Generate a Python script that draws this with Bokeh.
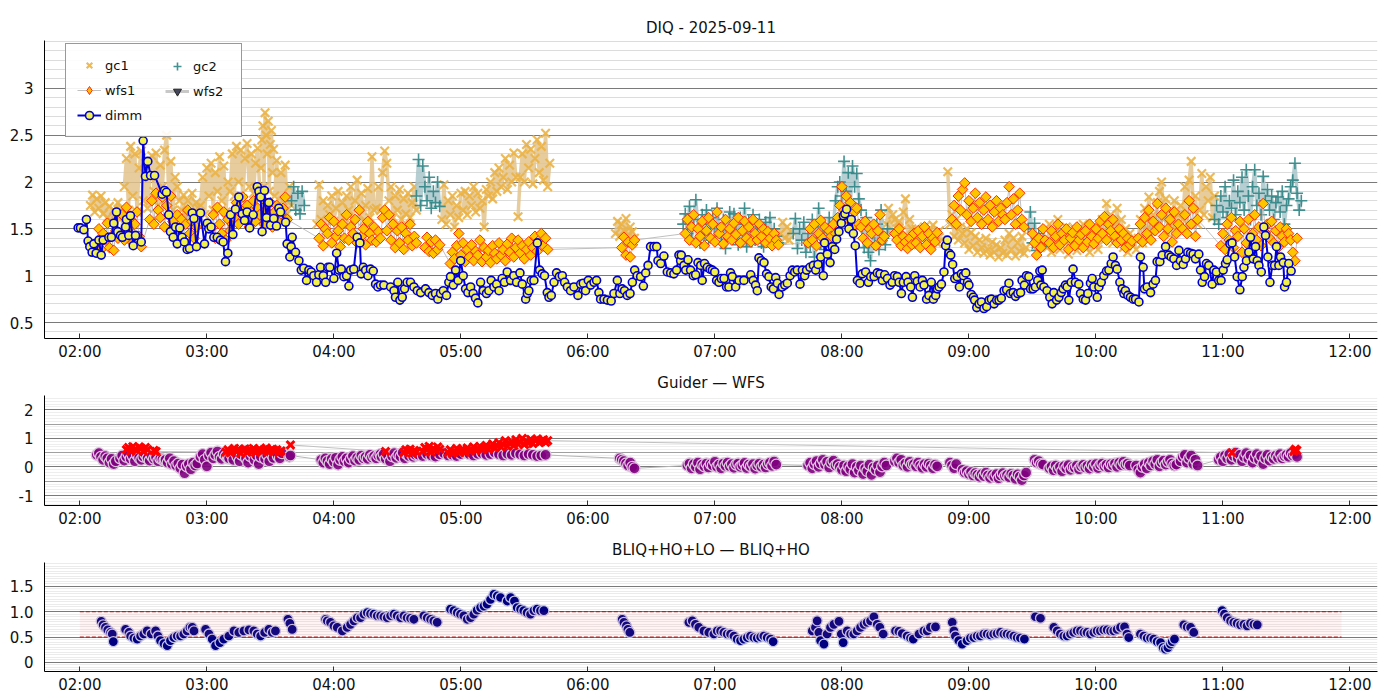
import math
from bokeh.plotting import figure
from bokeh.layouts import column
from bokeh.models import FixedTicker, Legend, LegendItem, Grid, BoxAnnotation, Range1d
from bokeh.embed import file_html
from bokeh.resources import INLINE

# ---------------------------------------------------------------- data
# time = minutes after 02:00 (UT), 2025-09-11
hour_ticks = [0, 60, 120, 180, 240, 300, 360, 420, 480, 540, 600]
hour_labels = ["02:00", "03:00", "04:00", "05:00", "06:00", "07:00",
               "08:00", "09:00", "10:00", "11:00", "12:00"]

# DIMM seeing
dimm_t = [-0.8, 0.3, 1.9, 3.1, 3.9, 4.7, 5.8, 6.6, 7.7, 9.0, 10.1, 11.0, 13.7, 14.9, 16.0, 17.3, 17.9, 19.2, 20.1, 21.6,
          22.0, 23.1, 23.9, 25.2, 26.3, 29.0, 29.9, 31.0, 32.1, 33.4, 35.3, 38.9, 40.0, 40.9, 42.0, 42.8, 44.1, 45.2, 46.0, 47.2,
          48.3, 49.4, 50.7, 51.8, 53.1, 53.9, 55.1, 57.0, 58.9, 60.2, 60.9, 62.0, 63.3, 64.9, 66.4, 67.7, 68.8, 69.9, 71.2, 72.3,
          73.5, 75.1, 76.7, 77.8, 79.0, 80.2, 81.9, 83.8, 84.6, 85.4, 86.1, 87.2, 88.2, 89.3, 90.1, 91.6, 92.9, 94.0, 94.8, 97.2,
          97.9, 99.2, 99.8, 100.3, 101.9, 103.5, 104.6, 105.8, 107.1, 108.2, 109.3, 110.5, 111.8, 112.9, 113.7, 115.0, 116.1, 117.2, 118.1, 120.0,
          121.3, 122.4, 123.5, 124.7, 126.0, 127.1, 127.9, 129.4, 131.0, 132.3, 132.9,
          133.9, 135.0, 136.1, 137.3, 138.6, 139.7, 140.8, 142.0, 143.6, 146.8,
          148.4, 149.1, 150.2, 151.2, 152.3, 153.4, 154.6, 156.2, 157.8, 159.4,
          161.0, 163.3, 164.9, 166.5, 168.0, 169.1, 170.4, 171.7, 173.2, 174.3,
          175.1, 176.4, 177.5, 178.7, 179.9, 181.1, 182.2, 183.3, 184.6, 185.8,
          186.9, 188.0, 189.3, 190.6, 192.1, 193.2, 194.3, 195.6, 196.9, 198.0,
          199.5, 200.6, 201.9, 203.5, 205.0, 206.3, 207.9, 209.0, 210.6, 211.4,
          212.1, 213.2, 214.5, 216.1, 217.2, 218.4, 219.5, 220.8, 221.6, 222.7,
          224.0, 225.2, 226.5, 227.9, 229.0, 230.3, 231.8, 233.4, 235.3, 236.6,
          237.8, 238.9, 240.2, 241.3, 242.9, 244.1, 245.2, 246.0, 247.6, 249.2,
          251.0, 252.3, 253.9, 255.1, 256.2, 257.3, 258.6, 259.9, 261.0, 262.1,
          263.3, 264.9, 266.2, 267.3, 268.4, 269.6, 271.2, 272.5, 273.1, 274.4,
          275.9, 277.5, 279.1, 280.6, 281.9, 283.0, 283.8,
          284.1, 285.4, 286.2, 287.3, 288.5, 289.8, 290.9, 292.0, 293.3, 294.0,
          295.1, 296.4, 297.7, 298.8, 299.9, 300.8, 301.9, 303.0, 304.3, 305.5,
          306.6, 307.4, 308.2, 309.8, 311.4, 313.7, 316.9, 318.1, 319.2, 320.0,
          320.8, 321.9, 323.2, 324.4, 325.5, 326.6, 327.6, 328.7, 329.5, 330.3,
          331.8, 333.0, 334.2, 335.5, 336.6, 337.7, 338.9, 340.2, 341.3, 342.4,
          343.3, 344.9, 346.5, 347.6, 348.7, 350.0, 351.2, 351.8, 353.1, 354.4,
          355.5, 356.6, 357.5, 358.6, 359.7, 360.7, 361.4, 362.2, 363.3, 364.4,
          365.4, 366.3, 367.3, 368.5, 369.6, 371.2, 372.5, 373.6, 375.2, 376.7,
          378.0, 379.1, 380.2, 381.5, 382.7, 383.8, 384.9, 386.2, 387.0, 388.1,
          389.0, 390.3, 391.2, 392.5, 393.3, 394.4, 395.6, 396.9, 398.0, 398.8,
          400.0, 401.1, 402.2, 403.2, 404.3, 405.1, 405.9, 407.0, 408.2, 409.0,
          409.8, 410.6, 411.4, 412.3, 413.3, 414.5, 415.5, 416.4, 417.4, 418.5,
          419.3, 420.0, 421.1, 422.1, 422.7, 423.7, 424.8, 425.9, 427.1, 428.4,
          429.5, 430.6, 431.9, 433.1, 434.2, 435.3, 436.6, 437.8, 438.9,
          439.6, 440.9, 442.0, 443.1, 444.4, 445.1, 446.2, 447.2, 448.3, 449.1,
          450.3, 451.4, 452.5, 453.5, 454.0, 454.6, 455.4, 456.9, 458.2, 459.3,
          460.1, 461.4, 462.5, 463.6, 464.5, 465.6, 466.4, 467.2, 468.3, 469.2,
          470.3, 471.9, 472.7, 474.0, 475.1, 476.2, 477.4, 478.2, 479.0, 480.6,
          481.4, 482.5, 483.7, 485.0, 486.1, 487.2, 488.1, 489.2, 490.0, 491.3,
          492.4, 493.2, 493.9, 495.1, 496.3, 497.6, 498.7, 500.3, 501.0, 502.3,
          502.9, 504.2, 505.8, 507.0, 508.1, 508.9, 510.2, 511.3, 512.9, 514.4,
          515.5, 516.8, 518.1, 519.2, 519.9, 521.2, 522.3, 523.4, 524.7, 525.9,
          527.0, 528.6, 529.4, 530.2, 531.3, 532.2, 533.3, 534.9, 535.7, 536.9,
          538.0, 539.1, 540.1, 541.2, 542.0, 543.3, 544.3, 545.5, 546.7, 548.0,
          549.1, 549.9, 551.1, 552.2, 553.0, 554.3, 555.4, 556.2, 557.0, 558.1,
          559.3, 560.1, 561.2, 562.2, 563.3, 564.4, 565.3, 566.4, 567.2, 568.5,
          569.1, 570.0, 571.1, 572.2]
dimm_v = [1.51, 1.51, 1.49, 1.60, 1.37, 1.31, 1.25, 1.34, 1.24, 1.38, 1.22, 1.38, 1.41, 1.41, 1.56, 1.68, 1.47, 1.43, 1.41, 1.52,
          1.60, 1.43, 1.64, 1.32, 1.43, 1.36, 2.44, 2.06, 2.22, 2.07, 2.07, 1.87, 1.91, 1.89, 1.65, 1.47, 1.41, 1.52, 1.34, 1.51,
          1.41, 1.36, 1.28, 1.29, 1.67, 1.61, 1.31, 1.67, 1.34, 1.56, 1.50, 1.52, 1.41, 1.41, 1.38, 1.36, 1.15, 1.24, 1.65, 1.44,
          1.71, 1.84, 1.66, 1.59, 1.68, 1.51, 1.65, 1.95, 1.90, 1.84, 1.47, 1.91, 1.62, 1.78, 1.54, 1.61, 1.53, 1.72, 1.68, 1.57,
          1.34, 1.20, 1.31, 1.41, 1.25, 1.16, 1.06, 1.08, 0.95, 1.06, 1.04, 1.00, 0.93, 1.01, 1.09, 1.00, 0.93, 1.09, 1.09, 0.97,
          1.24, 1.06, 1.07, 0.99, 1.00, 0.89, 1.06, 1.07, 1.41, 1.35, 1.02,
          1.09, 1.06, 1.00, 1.07, 1.05, 0.91, 0.88, 0.90, 0.90, 0.88,
          0.84, 0.77, 0.93, 0.74, 0.77, 0.86, 0.93, 0.93, 0.88, 0.84,
          0.82, 0.86, 0.82, 0.79, 0.81, 0.75, 0.81, 0.84, 0.79, 0.93,
          0.99, 0.90, 1.06, 0.95, 1.16, 1.00, 0.86, 0.82, 0.88, 0.81,
          0.76, 0.71, 0.93, 0.84, 0.81, 0.84, 0.95, 0.88, 0.91, 0.84,
          0.97, 0.93, 1.04, 0.95, 1.00, 0.93, 1.03, 0.91, 0.75, 0.81,
          0.84, 0.95, 0.95, 1.35, 1.06, 1.02, 1.00, 0.82, 0.77, 0.79,
          0.93, 1.03, 0.99, 1.00, 0.93, 0.88, 0.84, 0.88, 0.79, 0.91,
          0.92, 0.84, 0.95, 0.90, 0.93, 0.95, 0.82, 0.75, 0.75, 0.74,
          0.73, 0.81, 0.95, 0.81, 0.86, 0.84, 0.79, 0.81, 0.93, 1.06,
          1.00, 0.99, 0.89, 1.03, 1.11, 1.31, 1.31, 1.31, 1.16, 1.13,
          1.21, 1.04, 1.03, 1.02, 1.06, 1.22, 1.16,
          1.22, 1.11, 1.06, 1.17, 1.06, 1.00, 1.01, 1.14, 1.11, 0.95,
          1.13, 1.09, 1.07, 1.06, 1.04, 0.95, 0.93, 0.97, 0.97, 0.88,
          0.88, 1.03, 0.99, 0.88, 0.95, 0.95, 1.01, 0.95, 0.90, 0.84,
          1.19, 1.16, 1.14, 1.02, 0.99, 0.88, 0.86, 0.98, 0.92, 0.80,
          0.88, 0.90, 0.92, 1.00, 1.06, 1.04, 1.06, 0.91, 1.06, 1.00,
          1.06, 1.09, 1.11, 1.06, 1.12, 1.20, 1.00, 1.35, 1.23, 1.14,
          1.31, 1.28, 1.39, 1.47, 1.56, 1.64, 1.66, 1.71, 1.50, 1.60,
          1.45, 1.32, 0.95, 0.92, 1.02, 1.04, 0.93, 0.99, 0.99, 1.03,
          1.02, 0.95, 1.01, 0.97, 0.90, 0.93, 1.00, 0.99, 0.93, 0.81,
          0.93, 0.99, 0.93, 0.88, 0.77, 1.00, 0.94, 0.88, 0.95, 0.90,
          0.75, 0.79, 0.93, 0.75, 0.79, 0.86, 0.88, 0.91, 1.04, 1.32,
          1.38, 1.24, 1.22, 1.12, 0.97, 0.99, 0.88, 1.02, 1.00, 1.03,
          0.93, 0.90, 0.80, 0.77, 0.74, 0.66, 0.70, 0.72, 0.65, 0.67,
          0.74, 0.75, 0.70, 0.74, 0.74, 0.76, 0.84, 0.85, 0.92,
          0.81, 0.82, 0.78, 0.81, 0.82, 0.95, 0.90, 1.00, 0.99, 0.86,
          0.86, 0.88, 0.95, 1.05, 0.90, 1.06, 0.88, 0.84, 0.77, 0.70,
          0.82, 0.74, 0.77, 0.82, 0.86, 0.90, 0.88, 0.74, 0.93, 1.07,
          0.93, 0.91, 0.81, 0.75, 0.74, 0.81, 0.92, 0.97, 0.88, 0.77,
          0.88, 0.93, 1.00, 1.05, 1.06, 1.13, 1.20, 1.11, 1.07, 0.93,
          0.86, 0.81, 0.84, 0.79, 0.77, 0.75, 0.75, 0.72, 1.20, 1.09,
          0.86, 0.88, 0.82, 0.91, 0.95, 1.15, 1.15, 1.22, 1.31, 1.22,
          1.20, 1.18, 1.11, 1.27, 1.16, 1.12, 1.18, 1.25, 1.24, 1.23,
          1.18, 1.23, 1.06, 0.93, 0.99, 1.13, 1.11, 0.91, 1.06, 1.04,
          0.95, 0.95, 1.06, 1.13, 1.17, 1.34, 1.35, 1.20, 0.99, 0.85,
          0.99, 1.09, 1.16, 1.25, 1.41, 1.18, 1.31, 1.16, 1.11, 1.04,
          1.52, 1.43, 1.20, 0.93, 1.11, 1.11, 1.31, 1.11, 1.20, 1.14,
          0.88, 0.93, 1.13, 1.05]

# guide camera 1 FWHM: (start minute, sampling step in minutes, values)
gc1_runs = [
    (5, 1, [1.75, 1.86, 1.68, 1.82, 1.72, 1.85, 1.66, 1.78, 1.62, 1.74, 1.58, 1.70, 1.66, 1.78, 1.60, 1.72]),
    (21, 1, [1.95, 2.25, 1.70, 2.38, 1.85, 2.30, 1.68, 2.15, 2.33, 1.80, 2.20, 1.72, 2.05, 2.28, 1.90, 2.31, 1.75, 2.18,
             1.95, 2.34, 2.50, 1.85, 2.22, 1.70, 2.05, 1.95, 1.80]),
    (48, 1, [1.70, 1.86, 1.62, 1.80, 1.68, 1.88, 1.65, 1.78, 1.72]),
    (57, 1, [1.75, 2.05, 1.65, 2.15, 1.85, 2.20, 1.70, 2.10, 1.90, 2.27, 1.80, 2.17, 1.68, 2.00]),
    (71, 1, [1.90, 2.30, 1.85, 2.38, 2.00, 2.34, 1.82, 2.25, 2.41, 1.95, 2.30, 1.88, 2.20, 2.36, 1.90]),
    (85.5, 0.5, [2.15, 2.45, 2.60, 1.95, 2.74, 2.50, 2.30, 2.65, 1.90, 2.40, 2.55, 2.10, 2.35]),
    (92, 1, [1.85, 2.23, 1.70, 2.10, 1.80, 2.18, 1.66, 1.95, 1.75]),
    (112, 1, [1.55, 1.97, 1.60, 1.80, 1.52, 1.75, 1.65, 1.85, 1.58, 1.72, 1.90, 1.55, 1.78, 1.62, 1.85, 1.70, 1.95, 1.60,
              1.80, 2.02, 1.65, 1.88, 1.58, 1.75, 1.93, 1.62, 2.27, 1.70]),
    (140, 1, [1.72, 1.95, 1.70, 2.10, 2.33, 2.20, 1.80, 1.95, 1.62, 1.85, 1.70, 1.92, 1.60, 1.82, 1.66, 1.88, 1.62, 1.78,
              1.95, 1.70]),
    (171, 1, [1.60, 1.97, 1.55, 1.80, 1.65, 1.85, 1.52, 1.75, 1.62, 1.88]),
    (181, 1, [1.70, 1.90, 1.65, 1.85, 1.75, 1.95, 1.68, 1.88, 1.72, 1.80, 1.52, 1.92]),
    (193, 1, [1.85, 2.00, 1.82, 2.10, 1.90, 2.15, 1.95, 2.05, 2.25, 1.92, 2.18, 2.00, 2.31, 2.05]),
    (207, 1, [1.63, 2.05, 2.30, 2.00, 2.40, 2.15, 2.35, 1.98, 2.25, 2.45, 2.10, 2.38, 2.02, 2.52, 1.95, 2.20]),
    (253, 1, [1.45, 1.58, 1.42, 1.55, 1.48, 1.61, 1.44, 1.52, 1.47, 1.40]),
    (331, 1, [1.45, 1.57, 1.40, 1.52, 1.38, 1.48]),
    (381, 1, [1.55, 1.72, 1.45, 1.65, 1.60, 1.50, 1.58, 1.48, 1.68, 1.82, 1.42, 1.60, 1.50]),
    (394, 1, [1.40, 1.50, 1.33, 1.45, 1.38, 1.52, 1.36, 1.47, 1.32, 1.54, 1.40, 1.35, 1.48, 1.38]),
    (410, 1, [2.11, 1.55, 1.65, 1.42, 1.60, 1.38, 1.52, 1.45, 1.35, 1.50, 1.28, 1.46, 1.32, 1.42, 1.25, 1.38, 1.30, 1.24,
              1.40, 1.28, 1.22, 1.36, 1.25, 1.33, 1.20, 1.30, 1.24, 1.38, 1.22, 1.45, 1.28, 1.40, 1.21, 1.35, 1.26, 1.42,
              1.24, 1.30]),
    (457, 1, [1.30, 1.55, 1.25, 1.48, 1.35, 1.60, 1.28, 1.45, 1.38, 1.52, 1.23, 1.42, 1.32, 1.50, 1.27, 1.45, 1.36, 1.55,
              1.30, 1.48, 1.25, 1.40, 1.35, 1.52, 1.28, 1.46, 1.60, 1.38, 1.77, 1.45, 1.65, 1.35, 1.55, 1.72, 1.42, 1.60,
              1.30, 1.50, 1.25, 1.45, 1.33, 1.40, 1.28]),
    (500, 1, [1.40, 1.60, 1.35, 1.72, 1.50, 1.84, 1.42, 1.65, 1.55, 1.78, 1.90, 2.00, 1.60, 1.82, 1.45, 1.70, 1.55, 1.80,
              1.48, 1.65, 1.75]),
    (521, 1, [1.60, 1.95, 1.50, 2.02, 2.22, 1.70, 1.85, 1.55]),
    (529, 1, [1.70, 2.09, 1.65, 1.95, 1.80, 2.05, 1.62, 1.85]),
]

# guide camera 2 FWHM
gc2_runs = [
    (100, 1, [1.80, 1.95, 1.70, 1.88, 1.66, 1.90, 1.75]),
    (159, 1, [1.85, 2.24, 1.75, 2.17, 1.95, 1.80, 2.05, 1.72, 1.90, 1.78, 2.00, 1.74]),
    (285, 1, [1.55, 1.66, 1.45, 1.74, 1.40, 1.60, 1.81, 1.50, 1.35, 1.65, 1.45, 1.70, 1.38, 1.55, 1.62, 1.42, 1.72, 1.50,
              1.36, 1.60, 1.29, 1.48, 1.68, 1.40, 1.66, 1.55, 1.33, 1.62, 1.46, 1.72, 1.31, 1.58, 1.44, 1.65, 1.38, 1.52,
              1.60, 1.35, 1.31, 1.57, 1.45, 1.62, 1.38, 1.50, 1.42, 1.35]),
    (337, 1, [1.45, 1.61, 1.29, 1.50, 1.38, 1.57, 1.25, 1.45, 1.32, 1.60, 1.20, 1.40, 1.72, 1.35, 1.52, 1.28, 1.46, 1.62,
              1.38, 1.55, 1.80, 1.95, 2.00, 1.85, 2.22, 1.90, 2.10, 1.78, 2.17, 1.95, 2.09, 1.82, 1.70]),
    (369.5, 1, [1.50, 1.30, 1.62, 1.25, 1.16, 1.45, 1.35, 1.55, 1.28, 1.70, 1.40, 1.33, 1.50]),
    (448, 1, [1.50, 1.68, 1.35, 1.56, 1.27, 1.45, 1.31, 1.40]),
    (536, 1, [1.60, 1.75, 1.55, 1.85, 1.68, 1.95, 1.62, 1.80, 1.72, 2.02, 1.65, 1.90, 1.78, 2.05, 1.70, 2.13, 1.85, 1.60,
              1.95, 2.13, 1.75, 1.88, 1.65, 2.06, 1.80, 1.92, 1.70, 1.85, 1.60, 1.78, 1.84, 1.68, 1.90, 1.55, 1.75, 1.82,
              1.95, 2.02, 2.20, 1.88, 1.70, 1.80]),
]

# wavefront sensor 1 FWHM
wfs1_runs = [
    (8, 1, [1.35, 1.50, 1.28, 1.45, 1.38, 1.56, 1.30, 1.42, 1.27, 1.48, 1.40]),
    (19, 1, [1.45, 1.65, 1.38, 1.73, 1.50, 1.60, 1.35, 1.55, 1.68, 1.42, 1.31]),
    (33, 1, [1.60, 1.80, 1.55, 1.88, 1.70, 1.62, 1.84, 1.52, 1.75, 1.65, 1.85, 1.58]),
    (45, 1, [1.50, 1.65, 1.42, 1.60, 1.38, 1.55, 1.70, 1.45, 1.58, 1.40, 1.52]),
    (62, 1, [1.50, 1.65, 1.40, 1.73, 1.55, 1.45, 1.68, 1.38, 1.60, 1.48, 1.55]),
    (73, 1, [1.62, 1.78, 1.55, 1.70, 1.84, 1.60, 1.75, 1.52, 1.68, 1.80, 1.58, 1.72, 1.65, 1.82, 1.55, 1.70, 1.62, 1.78,
             1.52, 1.68, 1.75, 1.58, 1.66, 1.72, 1.84, 1.60]),
    (113, 1, [1.40, 1.55, 1.32, 1.50, 1.45, 1.62, 1.35, 1.58, 1.42, 1.48, 1.31, 1.55, 1.40, 1.65, 1.38, 1.52, 1.45, 1.60,
              1.35, 1.70, 1.42, 1.50, 1.33, 1.58, 1.45, 1.38, 1.52, 1.36, 1.47, 1.40, 1.62, 1.70, 1.48, 1.65, 1.38, 1.55,
              1.30, 1.48, 1.35, 1.52, 1.28, 1.45, 1.38, 1.55, 1.32, 1.42, 1.35]),
    (163, 1, [1.30, 1.41, 1.26, 1.36, 1.24, 1.38, 1.28, 1.33]),
    (175, 1, [1.13, 1.25, 1.18, 1.32, 1.45, 1.22, 1.35, 1.15, 1.28, 1.20, 1.33, 1.16, 1.26, 1.22, 1.38, 1.15, 1.30, 1.20,
              1.27, 1.14, 1.32, 1.24, 1.18, 1.35, 1.22, 1.28, 1.16, 1.34, 1.25, 1.40, 1.20, 1.30, 1.38, 1.24, 1.32, 1.18,
              1.28, 1.36, 1.22, 1.30, 1.42, 1.26, 1.38, 1.45, 1.32, 1.40, 1.28]),
    (256, 1, [1.30, 1.41, 1.22, 1.36, 1.20, 1.33, 1.38]),
    (286, 1, [1.45, 1.60, 1.38, 1.52, 1.65, 1.35, 1.50, 1.42, 1.58, 1.32, 1.48, 1.62, 1.40, 1.55, 1.36, 1.68, 1.45, 1.52,
              1.34, 1.60, 1.42, 1.50, 1.38, 1.56, 1.44, 1.62, 1.35, 1.48, 1.58, 1.40, 1.52, 1.36, 1.60, 1.45, 1.38, 1.55,
              1.42, 1.50, 1.35, 1.47, 1.40, 1.32, 1.45, 1.38, 1.33]),
    (344, 1, [1.35, 1.50, 1.38, 1.55, 1.32, 1.45, 1.59, 1.40, 1.52, 1.36, 1.48, 1.42, 1.55, 1.45]),
    (358, 1, [1.62, 1.75, 1.95, 1.70, 1.85, 1.60, 1.78, 1.52, 1.68, 1.72, 1.55]),
    (369, 1, [1.52, 1.40, 1.58, 1.35, 1.50, 1.45, 1.55, 1.32, 1.48, 1.65, 1.38, 1.42]),
    (385, 1, [1.45, 1.38, 1.50, 1.32, 1.42, 1.36, 1.29, 1.40, 1.33, 1.45]),
    (395, 1, [1.35, 1.48, 1.30, 1.42, 1.52, 1.33, 1.45, 1.28, 1.40, 1.36, 1.46]),
    (412, 1, [1.60, 1.75, 1.55, 1.85, 1.70, 1.92, 1.99, 1.65, 1.80, 1.58, 1.72, 1.88, 1.62, 1.78, 1.55, 1.70, 1.84, 1.60,
              1.75, 1.52, 1.68, 1.80, 1.58, 1.72, 1.65, 1.60, 1.78, 1.95, 1.65, 1.82, 1.55, 1.70, 1.88, 1.60, 1.52]),
    (450, 1, [1.45, 1.35, 1.22, 1.40, 1.30, 1.50, 1.38]),
    (458, 1, [1.35, 1.48, 1.30, 1.42, 1.55, 1.33, 1.45, 1.38, 1.50, 1.28, 1.40, 1.46, 1.32, 1.52, 1.38, 1.44, 1.30, 1.48,
              1.36, 1.55, 1.42, 1.34, 1.50, 1.40, 1.58, 1.45, 1.63, 1.38, 1.55, 1.48, 1.60, 1.42, 1.35, 1.50, 1.38, 1.45,
              1.30, 1.40, 1.33, 1.37]),
    (500, 1, [1.40, 1.55, 1.36, 1.62, 1.45, 1.70, 1.38, 1.58, 1.48, 1.77, 1.52, 1.65, 1.42, 1.72, 1.50, 1.60, 1.36, 1.68,
              1.45, 1.55]),
    (521, 1, [1.50, 1.65, 1.45, 1.80, 1.55, 1.72, 1.42, 1.60]),
    (539, 1, [1.32, 1.45, 1.28, 1.55, 1.38, 1.62, 1.30, 1.48, 1.42, 1.58, 1.25, 1.50, 1.35, 1.60, 1.40, 1.45, 1.65, 1.38,
              1.52, 1.32, 1.77, 1.46, 1.55, 1.40, 1.58, 1.35, 1.48, 1.30, 1.52, 1.42, 1.36, 1.50, 1.45, 1.38, 1.25, 1.16,
              1.40]),
]

# wavefront sensor 2: no valid measurements this night
wfs2_t = [float("nan")]
wfs2_v = [float("nan")]

# Guider - WFS differences
diff_runs = [
    (8, 1, [0.42, 0.48, 0.35, 0.25, 0.38, 0.30, 0.15, 0.28, 0.10, 0.20]),
    (19, 1, [0.30, 0.40, 0.22, 0.35, 0.45, 0.28, 0.38, 0.20, 0.42, 0.32, 0.25, 0.36, 0.44, 0.30, 0.22, 0.38, 0.28, 0.34,
             0.20, 0.30, 0.26, 0.22]),
    (40.5, 1, [0.25, 0.15, 0.30, 0.10, 0.20, 0.05, 0.12, -0.05, 0.08, -0.22, 0.02, 0.10, -0.08, 0.15, 0.05, 0.12]),
    (57, 1, [0.35, 0.45, 0.25, 0.02, 0.40, 0.50, 0.30, 0.42, 0.54, 0.35, 0.28, 0.45, 0.38, 0.30]),
    (70.5, 1, [0.30, 0.45, 0.25, 0.50, 0.35, 0.20, 0.42, 0.55, 0.30, 0.15, 0.38, 0.48, 0.25, 0.40, 0.10, 0.35, 0.50, 0.28,
               0.42, 0.20, 0.45, 0.32, 0.55, 0.38, 0.30, 0.48]),
    (99, 0.5, [0.36, 0.40]),
    (114, 1, [0.25, 0.15, 0.30, 0.20, 0.10, 0.28, 0.18, 0.32, 0.08, 0.25, 0.35, 0.20, 0.30, 0.15, 0.28, 0.38, 0.22, 0.32,
              0.25, 0.40, 0.30, 0.35, 0.28, 0.42, 0.33, 0.38, 0.30, 0.40, 0.45]),
    (142.5, 1, [0.35, 0.45, 0.28, 0.40, 0.20, 0.38, 0.48, 0.32, 0.42, 0.36, 0.50, 0.30, 0.44, 0.38, 0.47, 0.35, 0.42]),
    (160, 2, [0.42, 0.38, 0.45, 0.40, 0.36, 0.44, 0.48, 0.40, 0.42, 0.38, 0.45, 0.50, 0.44, 0.40, 0.46, 0.48, 0.42, 0.45,
              0.50, 0.44, 0.40, 0.46, 0.42, 0.48, 0.44, 0.40, 0.45, 0.42, 0.38, 0.40, 0.42]),
    (255, 1, [0.30, 0.25, 0.20, 0.12, 0.05, 0.15, 0.00, -0.05]),
    (287, 1, [0.05, 0.12, -0.05, 0.10, 0.00, 0.15, -0.08, 0.08, 0.02, 0.12, -0.02, 0.10, 0.05, 0.18, 0.00, 0.08, -0.05,
              0.12, 0.04, 0.15, 0.02, 0.10, -0.03, 0.08, 0.12, 0.00, 0.06, 0.14, -0.04, 0.08, 0.02, 0.10, -0.06, 0.05,
              0.12, 0.00, 0.08, -0.02, 0.10, 0.15, 0.04, 0.19, 0.08]),
    (344, 1, [0.05, 0.15, -0.05, 0.10, 0.20, 0.00, 0.12, 0.25, 0.08, 0.18, -0.02, 0.15, 0.22, 0.05, 0.10, 0.00, -0.10,
              0.05, -0.15, 0.02, -0.08, 0.10, -0.20, 0.00, -0.12, 0.05, -0.25, -0.05, -0.15, 0.08, -0.28, -0.02, -0.10,
              0.05, -0.18, 0.02, 0.15, 0.05]),
    (385, 1, [0.20, 0.30, 0.15, 0.25, 0.05, 0.12, 0.00, 0.18, 0.08, 0.10, 0.02, 0.15, 0.05, -0.03, 0.10, 0.00, 0.12, 0.05,
              -0.05, 0.08, 0.02]),
    (411, 1, [0.15, 0.05, -0.05, 0.10]),
    (417, 1, [-0.10, -0.20, -0.15, -0.25, -0.18, -0.30, -0.22, -0.28, -0.35, -0.25, -0.32, -0.20, -0.30, -0.38, -0.28,
              -0.35, -0.25, -0.40, -0.30, -0.22, -0.32, -0.28, -0.36, -0.24, -0.30, -0.42, -0.26, -0.34, -0.46, -0.30,
              -0.20]),
    (451, 1, [0.25, 0.15, 0.20, 0.10, 0.08]),
    (458, 1, [-0.05, 0.02, -0.12, 0.05, -0.08, 0.00, -0.15, 0.03, -0.05, 0.06, -0.10, 0.00, -0.03, 0.05, -0.08, 0.02,
              0.07, -0.02, 0.04, -0.06, 0.08, 0.00, 0.10, -0.04, 0.06, 0.12, 0.02, 0.08, -0.02, 0.10, 0.05, 0.12, 0.00,
              0.15, 0.06, 0.18, 0.08, 0.12, 0.05]),
    (499, 1, [0.05, -0.10, -0.20, 0.00, 0.10, -0.05, 0.15, 0.05, 0.20, 0.10, 0.25, 0.02, 0.15, 0.22, 0.08, 0.18, 0.25,
              0.12, 0.05, 0.08]),
    (520, 1, [0.20, 0.35, 0.42, 0.15, 0.30, 0.40, 0.10, 0.25, 0.05]),
    (538, 1, [0.25, 0.35, 0.20, 0.40, 0.30, 0.45, 0.25, 0.38, 0.50, 0.30, 0.42, 0.20, 0.35, 0.48, 0.28, 0.40, 0.15, 0.32,
              0.45, 0.25, 0.38, 0.10, 0.30, 0.42, 0.22, 0.35, 0.28, 0.40, 0.32, 0.45, 0.30, 0.38, 0.42, 0.35, 0.48, 0.40,
              0.45, 0.35]),
]

# flagged Guider - WFS differences
flag_runs = [
    (22, 1, [0.60, 0.68, 0.55, 0.71, 0.62, 0.58, 0.70, 0.65, 0.55, 0.68, 0.60]),
    (35, 1, [0.58, 0.54]),
    (69, 1, [0.52, 0.60, 0.50, 0.58, 0.65, 0.55, 0.62, 0.48, 0.57, 0.63, 0.52, 0.60, 0.56, 0.65, 0.50, 0.58, 0.62, 0.54,
             0.60, 0.66, 0.52, 0.58, 0.62, 0.55, 0.60, 0.50, 0.56]),
    (99.5, 1, [0.77]),
    (144.4, 1, [0.54]),
    (153, 1, [0.50, 0.60, 0.55, 0.62, 0.48, 0.58, 0.52]),
    (162, 1, [0.55, 0.68, 0.60, 0.72, 0.52, 0.65, 0.58, 0.70, 0.62]),
    (174, 1, [0.50, 0.60, 0.48, 0.55, 0.65, 0.52, 0.58, 0.62, 0.50, 0.66, 0.56, 0.60, 0.70, 0.58, 0.64, 0.72, 0.60, 0.68,
              0.75, 0.62, 0.70, 0.80, 0.66, 0.74, 0.85, 0.70, 0.78, 0.92, 0.72, 0.82, 0.88, 0.75, 0.95, 0.80, 0.86, 1.00,
              0.78, 0.90, 0.84, 0.96, 0.82, 0.92, 0.98, 0.85, 0.90, 0.95, 0.86, 0.92]),
    (544.3, 1, [0.50]),
    (573.5, 0.7, [0.55, 0.62, 0.58]),
]

# BLIQ+HO+LO - BLIQ+HO
bliq_t = [10.1, 11.0, 12.1, 13.2, 14.5, 15.3, 15.8,
          21.6, 23.2, 24.0, 25.5, 27.1, 28.7, 30.2, 31.8, 33.7, 35.8, 36.9, 38.1, 39.7, 41.3, 42.8, 44.4, 46.0, 47.6, 49.1,
          50.7, 52.0, 53.1, 53.9,
          59.4, 61.0, 62.5, 64.1, 66.2, 68.0, 70.4, 72.8, 75.1, 77.5, 79.9, 82.2, 83.8, 85.4, 87.3, 89.3, 90.9, 92.4,
          98.3, 99.2, 100.3,
          116.1, 116.9, 118.4, 120.0, 121.6, 124.0, 126.3, 127.9, 129.5, 131.0, 132.6, 134.2, 135.8, 137.3, 138.9, 140.5,
          142.1, 143.6, 145.2, 146.8, 148.4, 149.9, 151.5, 153.1, 154.6, 156.2, 157.8,
          162.5, 164.1, 165.7, 167.2, 168.8,
          175.1, 176.7, 178.3, 179.8, 181.4, 183.0, 184.6, 186.1, 187.7, 189.3, 190.9, 192.4, 194.0, 195.6, 197.2, 198.7,
          201.9, 203.5, 205.3, 206.6, 208.2, 209.7, 211.3, 212.9, 214.5, 216.0, 217.6, 219.2,
          256.2, 257.0, 258.2, 258.9, 259.8,
          287.7, 289.3, 290.8, 292.4, 294.8, 297.1, 299.5, 301.1, 302.7, 304.2, 305.8, 307.4, 309.0, 310.5, 312.1, 313.7,
          315.3, 316.8, 318.4, 320.0, 321.6, 323.1, 324.7, 326.3, 327.5,
          346.0, 347.5, 348.3, 349.1, 349.9, 351.5, 353.0, 354.6, 356.2, 358.6, 359.7, 360.6, 362.5, 364.1, 365.6, 367.2,
          368.8, 370.4, 371.9, 373.5, 375.1, 376.7, 377.9, 379.5,
          385.3, 386.9, 388.5, 390.8, 392.4, 393.7, 396.4, 398.7, 400.3, 401.8, 404.2,
          412.1, 412.9, 413.6, 415.2, 416.8, 419.1, 420.7, 422.3, 423.9, 425.4, 427.0, 428.6, 430.2, 431.7, 433.3, 434.9,
          436.5, 438.0, 439.6, 441.2, 442.8, 444.3, 446.2,
          451.4, 453.8,
          460.1, 461.7, 463.2, 464.8, 466.4, 468.0, 469.5, 471.1, 472.7, 474.3, 475.8, 477.4, 479.0, 480.6, 482.1, 483.7,
          485.3, 486.9, 488.4, 490.0, 491.6, 493.5, 494.7, 495.5,
          501.0, 502.6, 504.2, 505.8, 507.3, 508.9, 510.5, 511.7, 512.8, 514.0, 515.2, 516.0, 517.1,
          521.5, 523.1, 524.7, 526.2,
          539.6, 540.7, 542.0, 543.6, 545.1, 546.7, 548.3, 549.9, 551.4, 553.0, 554.6, 556.2]
bliq_v = [0.81, 0.74, 0.69, 0.64, 0.59, 0.56, 0.41,
          0.65, 0.59, 0.52, 0.48, 0.46, 0.52, 0.56, 0.62, 0.56, 0.62, 0.52, 0.43, 0.37, 0.33, 0.43, 0.49, 0.52, 0.52, 0.56,
          0.62, 0.69, 0.69, 0.62,
          0.65, 0.56, 0.46, 0.33, 0.39, 0.46, 0.52, 0.62, 0.59, 0.62, 0.64, 0.62, 0.56, 0.52, 0.59, 0.65, 0.59, 0.62,
          0.85, 0.77, 0.65,
          0.85, 0.82, 0.79, 0.72, 0.69, 0.62, 0.69, 0.75, 0.82, 0.88, 0.88, 0.95, 0.98, 0.96, 0.95, 0.92,
          0.92, 0.90, 0.88, 0.92, 0.95, 0.92, 0.88, 0.92, 0.88, 0.87, 0.85,
          0.92, 0.88, 0.85, 0.82, 0.79,
          1.05, 1.02, 0.98, 0.95, 0.92, 0.85, 0.88, 0.95, 1.03, 1.08, 1.11, 1.15, 1.24, 1.34, 1.31, 1.28,
          1.21, 1.28, 1.21, 1.08, 1.05, 1.02, 0.98, 0.95, 1.02, 1.05, 1.02, 1.02,
          0.85, 0.79, 0.72, 0.65, 0.59,
          0.79, 0.82, 0.75, 0.69, 0.62, 0.59, 0.56, 0.62, 0.62, 0.59, 0.56, 0.56, 0.52, 0.46, 0.43, 0.46,
          0.49, 0.52, 0.49, 0.48, 0.50, 0.52, 0.49, 0.46, 0.41,
          0.62, 0.69, 0.82, 0.59, 0.43, 0.36, 0.56, 0.69, 0.75, 0.81, 0.56, 0.39, 0.62, 0.56, 0.56, 0.62,
          0.69, 0.75, 0.79, 0.82, 0.90, 0.75, 0.69, 0.56,
          0.62, 0.61, 0.57, 0.52, 0.48, 0.46, 0.56, 0.62, 0.62, 0.69, 0.70,
          0.79, 0.62, 0.52, 0.43, 0.36, 0.43, 0.48, 0.49, 0.52, 0.52, 0.56, 0.56, 0.54, 0.56, 0.57, 0.59,
          0.56, 0.56, 0.54, 0.52, 0.49, 0.48, 0.46,
          0.90, 0.87,
          0.69, 0.62, 0.56, 0.52, 0.52, 0.56, 0.59, 0.62, 0.62, 0.59, 0.59, 0.56, 0.59, 0.62, 0.62, 0.64,
          0.64, 0.62, 0.62, 0.65, 0.69, 0.70, 0.56, 0.49,
          0.56, 0.52, 0.48, 0.48, 0.46, 0.41, 0.39, 0.29, 0.26, 0.29, 0.36, 0.41, 0.46,
          0.74, 0.70, 0.69, 0.59,
          1.02, 0.95, 0.88, 0.82, 0.79, 0.77, 0.74, 0.75, 0.72, 0.77, 0.75, 0.74]

# reference band for the ratio panel
band_lo, band_hi = 0.5, 1.0
band_start, band_end = 0.0, 596.0


# ---------------------------------------------------------------- helpers
def expand(runs):
    xs, ys = [], []
    for start, step, vals in runs:
        xs += [start + i * step for i in range(len(vals))]
        ys += list(vals)
    return xs, ys


def per_run(runs):
    xs, ys = [], []
    for start, step, vals in runs:
        xs.append([start + i * step for i in range(len(vals))])
        ys.append(list(vals))
    return xs, ys


FONT = "DejaVu Sans"
W = 1392
x_range = Range1d(-16.7, 613)


def make_fig(height, y0, y1, title, top, bottom):
    p = figure(width=W, height=height, x_range=x_range, y_range=Range1d(y0, y1),
               output_backend="svg", toolbar_location=None, title=title,
               min_border_left=44, min_border_right=15,
               min_border_top=top, min_border_bottom=bottom)
    p.title.align = "center"
    p.title.text_font = FONT
    p.title.text_font_size = "15px"
    p.title.text_font_style = "normal"
    p.title.text_color = "#111111"
    p.title.standoff = 7
    p.outline_line_color = None
    p.background_fill_color = "white"
    p.xgrid.visible = False
    ax = p.xaxis[0]
    ax.ticker = FixedTicker(ticks=hour_ticks)
    ax.major_label_overrides = {t: l for t, l in zip(hour_ticks, hour_labels)}
    ax.major_tick_in = 5
    ax.major_tick_out = 0
    ax.major_tick_line_color = "#333333"
    ax.minor_tick_line_color = None
    ax.axis_line_color = "black"
    ax.major_label_text_font = FONT
    ax.major_label_text_font_size = "15px"
    ax.major_label_text_color = "#111111"
    ax.major_label_standoff = 4
    ay = p.yaxis[0]
    ay.major_tick_line_color = None
    ay.minor_tick_line_color = None
    ay.axis_line_color = "black"
    ay.major_label_text_font = FONT
    ay.major_label_text_font_size = "15px"
    ay.major_label_text_color = "#111111"
    ay.major_label_standoff = 5
    return p


def fr(a, b, step):
    n = int(round((b - a) / step))
    return [round(a + i * step, 3) for i in range(n + 1)]


# ---------------------------------------------------------------- panel 1
p1 = make_fig(365, 0.33, 3.51, "DIQ - 2025-09-11", 40, 27)
t1 = [0.5, 1.0, 1.5, 2.0, 2.5, 3.0]
p1.yaxis[0].ticker = FixedTicker(ticks=t1, minor_ticks=[v for v in fr(0.4, 3.5, 0.1) if v not in t1])
p1.yaxis[0].major_label_overrides = {0.5: "0.5", 1.0: "1", 1.5: "1.5", 2.0: "2", 2.5: "2.5", 3.0: "3"}
p1.ygrid.grid_line_color = "#7a7a7a"
p1.ygrid.minor_grid_line_color = "#dcdcdc"

gx, gy = expand(gc1_runs)
cx, cy = expand(gc2_runs)
wx, wy = expand(wfs1_runs)
gmx, gmy = per_run(gc1_runs)
cmx, cmy = per_run(gc2_runs)
n = min(len(dimm_t), len(dimm_v))

p1.multi_line(gmx, gmy, line_color="#E3C38C", line_width=3.5, line_alpha=0.85)
r_gc1 = p1.scatter(gx, gy, marker="x", size=12, line_color="#EBB245", line_width=2.2, line_alpha=0.9)
p1.multi_line(cmx, cmy, line_color="#A9C6C9", line_width=3.5, line_alpha=0.85)
r_gc2 = p1.scatter(cx, cy, marker="cross", size=12, line_color="#2F8585", line_width=1.6, line_alpha=0.9)
r_wfs1_line = p1.line(wx, wy, line_color="#b0b0b0", line_width=1, line_alpha=0.8)
r_wfs1 = p1.scatter(wx, wy, marker="square", angle=math.pi / 4, size=7.5,
                    fill_color="#FFC400", line_color="#FF2A00", line_width=1)
r_wfs1_key = p1.scatter(wfs2_t, wfs2_v, marker="diamond", size=14,
                        fill_color="#FFC400", line_color="#FF2A00", line_width=1)
r_wfs2_line = p1.line(wfs2_t, wfs2_v, line_color="#c8c8c8", line_width=3)
r_wfs2 = p1.scatter(wfs2_t, wfs2_v, marker="inverted_triangle", size=10, fill_color="#44475a", line_color="#222222")
r_dimm_line = p1.line(dimm_t[:n], dimm_v[:n], line_color="#0000DD", line_width=2)
r_dimm = p1.scatter(dimm_t[:n], dimm_v[:n], marker="circle", size=8, fill_color="#F2F04A",
                    line_color="#0000CC", line_width=1.6)

leg_style = dict(label_text_font=FONT, label_text_font_size="13px", label_text_color="#111111",
                 glyph_width=24, glyph_height=20, label_height=20, label_standoff=4,
                 spacing=5, padding=11, margin=0)
leg1 = Legend(items=[LegendItem(label="gc1", renderers=[r_gc1]),
                     LegendItem(label="wfs1", renderers=[r_wfs1_line, r_wfs1_key]),
                     LegendItem(label="dimm", renderers=[r_dimm_line, r_dimm])],
              location=(21, 201), label_width=125, border_line_color="#333333", border_line_width=1,
              background_fill_color="white", background_fill_alpha=0.9, **leg_style)
leg2 = Legend(items=[LegendItem(label="gc2", renderers=[r_gc2]),
                     LegendItem(label="wfs2", renderers=[r_wfs2_line, r_wfs2])],
              location=(110, 226), label_width=30, border_line_alpha=0, background_fill_alpha=0, **leg_style)
p1.add_layout(leg1)
p1.add_layout(leg2)

# ---------------------------------------------------------------- panel 2
p2 = make_fig(167, -1.35, 2.5, "Guider \u2014 WFS", 30, 27)
t2 = [-1, 0, 1, 2]
p2.yaxis[0].ticker = FixedTicker(ticks=t2, minor_ticks=[v for v in fr(-1.3, 2.5, 0.1) if v not in t2])
p2.yaxis[0].major_label_overrides = {-1: "-1", 0: "0", 1: "1", 2: "2"}
p2.ygrid.grid_line_color = "#7a7a7a"
p2.ygrid.minor_grid_line_color = "#eeeeee"
p2.add_layout(Grid(dimension=1, ticker=FixedTicker(ticks=[-0.5, 0.5, 1.5]), grid_line_color="#a0a0a0"))

dx, dy = expand(diff_runs)
fx, fy = expand(flag_runs)
p2.line(dx, dy, line_color="#b5b5b5", line_width=1)
p2.line(fx, fy, line_color="#c0c0c0", line_width=1)
p2.scatter(dx, dy, marker="circle", size=11, fill_color="#800080", fill_alpha=0.9,
           line_color="#dcc4dc", line_width=1.3)
p2.scatter(fx, fy, marker="x", size=11, line_color="#FF0000", line_width=3)

# ---------------------------------------------------------------- panel 3
p3 = make_fig(168, -0.18, 1.97, "BLIQ+HO+LO \u2014 BLIQ+HO", 30, 29)
t3 = [0, 0.5, 1.0, 1.5]
p3.yaxis[0].ticker = FixedTicker(ticks=t3, minor_ticks=[v for v in fr(-0.15, 1.95, 0.05) if v not in t3])
p3.yaxis[0].major_label_overrides = {0: "0", 0.5: "0.5", 1.0: "1.0", 1.5: "1.5"}
p3.ygrid.grid_line_color = "#7a7a7a"
p3.ygrid.minor_grid_line_color = "#ebebeb"

p3.add_layout(BoxAnnotation(left=band_start, right=band_end, bottom=band_lo, top=band_hi,
                            fill_color="#ff6b6b", fill_alpha=0.08, line_color=None))
for lvl in (band_lo, band_hi):
    p3.line([band_start, band_end], [lvl, lvl], line_color="#B22222", line_width=1.2, line_dash="4 2")
m = min(len(bliq_t), len(bliq_v))
p3.scatter(bliq_t[:m], bliq_v[:m], marker="circle", size=10, fill_color="#000080",
           line_color="#c4c4e4", line_width=1.3)

layout = column(p1, p2, p3, spacing=0)
open("out.html", "w").write(file_html(layout, INLINE))
